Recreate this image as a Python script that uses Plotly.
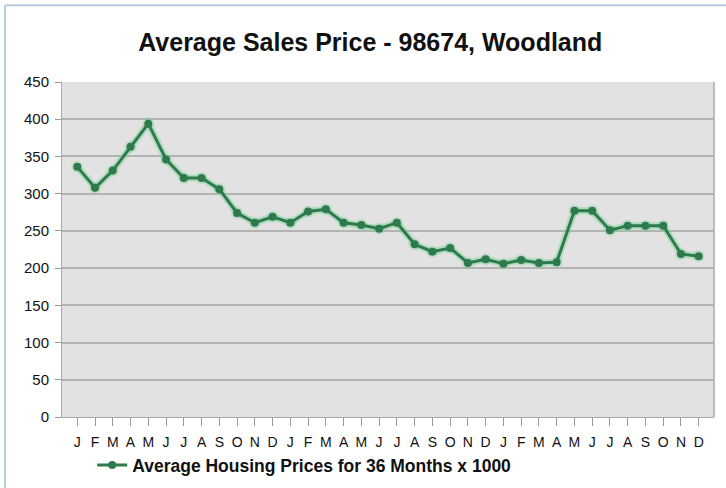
import plotly.graph_objects as go

month_labels = ["J", "F", "M", "A", "M", "J", "J", "A", "S", "O", "N", "D"] * 3
prices = [336, 308, 331, 363, 394, 346, 321, 321, 306, 274, 261, 269,
          261, 276, 279, 261, 258, 253, 261, 232, 222, 227, 207, 212,
          206, 211, 207, 208, 277, 277, 251, 257, 257, 257, 219, 216]
y_ticks = [0, 50, 100, 150, 200, 250, 300, 350, 400, 450]
series_name = "Average Housing Prices for 36 Months x 1000"
title_text = "Average Sales Price - 98674, Woodland"

idx = list(range(len(prices)))
FONT = "Liberation Sans, Arial, sans-serif"

fig = go.Figure()
# soft glow under the line
fig.add_trace(go.Scatter(x=idx, y=prices, mode="lines+markers",
                         line=dict(color="rgba(120,210,150,0.45)", width=7),
                         marker=dict(size=12, color="rgba(120,210,150,0.35)"),
                         showlegend=False, hoverinfo="skip"))
fig.add_trace(go.Scatter(x=idx, y=prices, mode="lines+markers", name="<b>" + series_name + "</b>",
                         line=dict(color="#2f7a4c", width=3),
                         marker=dict(size=8, color="#2f7a4c")))

fig.update_layout(
    width=726, height=488,
    paper_bgcolor="white", plot_bgcolor="#e2e2e2",
    margin=dict(l=62, r=12, t=82, b=71, autoexpand=False),
    title=dict(text="<b>" + title_text + "</b>", x=0.51, xanchor="center",
               y=0.914, yanchor="middle",
               font=dict(family=FONT, size=25, color="#111111")),
    showlegend=True,
    legend=dict(orientation="h", xref="container", yref="container",
                x=0.127, xanchor="left", y=0.047, yanchor="middle",
                font=dict(family=FONT, size=17.5, color="#111111"),
                bgcolor="rgba(0,0,0,0)"),
    shapes=[
        dict(type="line", xref="paper", yref="paper", x0=-0.0874, x1=1.02, y0=1.229, y1=1.229,
             line=dict(color="#b8cce4", width=2)),
        dict(type="line", xref="paper", yref="paper", x0=-0.0874, x1=-0.0874, y0=-0.22, y1=1.229,
             line=dict(color="#b8cce4", width=2)),
        dict(type="line", xref="paper", yref="paper", x0=1, x1=1, y0=0, y1=1,
             line=dict(color="#aaaaaa", width=1.5)),
    ],
)
fig.update_xaxes(range=[-0.86, 35.86], tickmode="array", tickvals=idx, ticktext=month_labels,
                 ticks="outside", ticklen=8, tickcolor="#999999", ticklabelstandoff=4,
                 showgrid=False, showline=True, linecolor="#aaaaaa",
                 tickfont=dict(family=FONT, size=14, color="#111111"),
                 zeroline=False)
fig.update_yaxes(range=[0, 450], tickmode="array", tickvals=y_ticks,
                 ticks="outside", ticklen=6, tickcolor="#999999", ticklabelstandoff=3,
                 showgrid=True, gridcolor="#b3b3b3", gridwidth=1.5,
                 showline=True, linecolor="#aaaaaa",
                 tickfont=dict(family=FONT, size=15, color="#111111"),
                 zeroline=False)

fig.write_html("out.html", config={"displayModeBar": False},
               post_script="document.body.style.margin='0px';")
